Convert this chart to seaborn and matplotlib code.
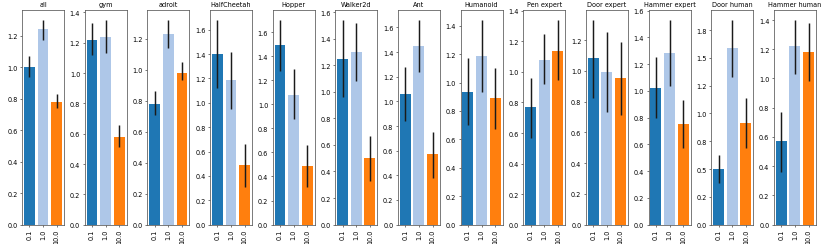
import matplotlib
matplotlib.use('Agg')
import matplotlib.pyplot as plt
import pandas as pd
import seaborn as sns
from matplotlib.ticker import FormatStrFormatter

titles = ['all', 'gym', 'adroit', 'HalfCheetah', 'Hopper', 'Walker2d', 'Ant',
          'Humanoid', 'Pen expert', 'Door expert', 'Hammer expert',
          'Door human', 'Hammer human']
lambdas = ['0.1', '1.0', '10.0']
colors = ['#1f77b4', '#aec7e8', '#ff7f0e']

# mean score per lambda, one row per panel
means = [
    [1.00, 1.24, 0.78],
    [1.22, 1.24, 0.58],
    [0.78, 1.23, 0.98],
    [1.40, 1.19, 0.49],
    [1.49, 1.08, 0.49],
    [1.25, 1.30, 0.50],
    [1.06, 1.45, 0.57],
    [0.93, 1.19, 0.89],
    [0.77, 1.08, 1.14],
    [1.08, 0.99, 0.95],
    [1.02, 1.28, 0.75],
    [0.50, 1.59, 0.91],
    [0.57, 1.22, 1.18],
]
err_lo = [
    [0.94, 1.17, 0.74],
    [1.12, 1.13, 0.51],
    [0.71, 1.14, 0.93],
    [1.12, 0.95, 0.31],
    [1.28, 0.88, 0.31],
    [0.96, 1.08, 0.33],
    [0.84, 1.24, 0.38],
    [0.70, 0.93, 0.67],
    [0.57, 0.92, 0.95],
    [0.82, 0.73, 0.71],
    [0.80, 1.04, 0.57],
    [0.37, 1.33, 0.69],
    [0.36, 1.03, 0.98],
]
err_hi = [
    [1.07, 1.30, 0.83],
    [1.33, 1.35, 0.66],
    [0.86, 1.32, 1.05],
    [1.68, 1.42, 0.66],
    [1.70, 1.29, 0.66],
    [1.54, 1.52, 0.67],
    [1.28, 1.66, 0.75],
    [1.17, 1.44, 1.10],
    [0.96, 1.25, 1.34],
    [1.33, 1.25, 1.19],
    [1.25, 1.53, 0.93],
    [0.63, 1.84, 1.14],
    [0.77, 1.40, 1.38],
]

fig, axes = plt.subplots(1, len(titles), figsize=(830 / 47, 245 / 47), dpi=47)
fig.subplots_adjust(left=0.0265, right=0.983, bottom=0.079, top=0.956, wspace=0.49)

for i, ax in enumerate(axes):
    df = pd.DataFrame({'lam': lambdas, 'score': means[i]})
    sns.barplot(data=df, x='lam', y='score', hue='lam', order=lambdas,
                hue_order=lambdas, palette=colors, saturation=1,
                errorbar=None, legend=False, ax=ax)
    ax.vlines(range(len(lambdas)), err_lo[i], err_hi[i], color='.1', lw=2.25)
    ax.set_title(titles[i], fontsize=10)
    ax.set_xlabel('')
    ax.set_ylabel('')
    ax.tick_params(axis='x', rotation=90)
    ax.yaxis.set_major_formatter(FormatStrFormatter('%.1f'))
    for sp in ax.spines.values():
        sp.set_color('0.35')
        sp.set_linewidth(1.2)

plt.savefig('out.png', dpi=47)
